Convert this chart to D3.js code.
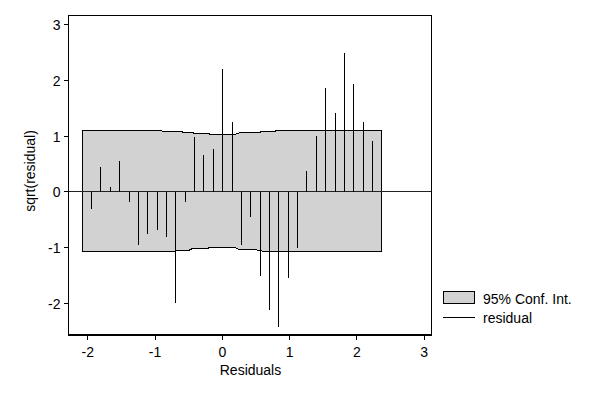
<!DOCTYPE html>
<html>
<head>
<meta charset="utf-8">
<script src="https://cdn.jsdelivr.net/npm/d3@7"></script>
<style>
  html, body { margin: 0; padding: 0; background: #fff; }
  svg { display: block; font-family: "Liberation Sans", Arial, sans-serif; }
</style>
</head>
<body>
<svg id="chart" width="600" height="400"></svg>
<script>
// ---- data ----
const residualX = [-1.932, -1.798, -1.649, -1.516, -1.367, -1.233, -1.100, -0.951, -0.817, -0.683,
                   -0.535, -0.401, -0.267, -0.119, 0.015, 0.163, 0.297, 0.431, 0.579, 0.713,
                   0.847, 0.996, 1.129, 1.263, 1.412, 1.545, 1.694, 1.828, 1.961, 2.110, 2.244];
const residualY = [-0.31, 0.45, 0.09, 0.55, -0.18, -0.95, -0.75, -0.68, -0.81, -1.99,
                   -0.18, 0.98, 0.66, 0.77, 2.20, 1.25, -0.95, -0.45, -1.52, -2.12,
                   -2.42, -1.55, -1.00, 0.37, 1.00, 1.86, 1.42, 2.49, 1.94, 1.25, 0.91];

const upperX = [-2.070, -0.941, -0.837, -0.614, -0.554, -0.450, -0.391, -0.212, -0.153, 0.189, 0.278, 0.545, 0.605, 0.768, 0.828, 2.373];
const upperY = [1.091, 1.091, 1.073, 1.073, 1.055, 1.055, 1.037, 1.037, 1.019, 1.019, 1.055, 1.055, 1.073, 1.073, 1.091, 1.091];
const lowerX = [-2.070, -0.733, -0.644, -0.495, -0.435, -0.227, -0.168, 0.189, 0.263, 0.500, 0.545, 0.650, 2.373];
const lowerY = [-1.081, -1.081, -1.063, -1.063, -1.027, -1.027, -1.009, -1.009, -1.050, -1.050, -1.068, -1.086, -1.086];

const xTicks = [-2, -1, 0, 1, 2, 3];
const yTicks = [-2, -1, 0, 1, 2, 3];
const xTitle = "Residuals";
const yTitle = "sqrt(residual)";
const legendLabels = ["95% Conf. Int.", "residual"];

// ---- layout ----
const L = 68, R = 431, T = 15, B = 334;
const FS = 14;
const x = d3.scaleLinear().domain([-2.278, 3.116]).range([L, R]);
const y = d3.scaleLinear().domain([-2.57, 3.155]).range([B, T]);
const px = v => Math.round(x(v)) + 0.5;
const py = v => Math.round(y(v)) + 0.5;

const svg = d3.select("#chart");
const bandFill = "#d2d2d2";

// band polygon (upper edge left->right, lower edge right->left)
const poly = upperX.map((d, i) => [x(d), y(upperY[i])])
  .concat(lowerX.map((d, i) => [x(d), y(lowerY[i])]).reverse());
svg.append("path")
  .attr("d", d3.line().x(d => Math.round(d[0]) + 0.5).y(d => Math.round(d[1]) + 0.5)(poly) + "Z")
  .attr("fill", bandFill)
  .attr("stroke", "#000")
  .attr("stroke-width", 1)
  .attr("shape-rendering", "crispEdges");

// zero line
svg.append("line")
  .attr("x1", L).attr("x2", R)
  .attr("y1", py(0)).attr("y2", py(0))
  .attr("stroke", "#222").attr("stroke-width", 1)
  .attr("shape-rendering", "crispEdges");

// residual spikes
svg.append("g").selectAll("line")
  .data(residualX.map((d, i) => ({ x: d, y: residualY[i] })))
  .join("line")
  .attr("x1", d => px(d.x)).attr("x2", d => px(d.x))
  .attr("y1", py(0)).attr("y2", d => py(d.y))
  .attr("stroke", "#000").attr("stroke-width", 1)
  .attr("shape-rendering", "crispEdges");

// frame
svg.append("rect")
  .attr("x", L + 0.5).attr("y", T + 0.5)
  .attr("width", R - L).attr("height", B - T)
  .attr("fill", "none").attr("stroke", "#000").attr("stroke-width", 1)
  .attr("shape-rendering", "crispEdges");
// thicker bottom axis
svg.append("line")
  .attr("x1", L).attr("x2", R + 1)
  .attr("y1", B + 1).attr("y2", B + 1)
  .attr("stroke", "#000").attr("stroke-width", 2)
  .attr("shape-rendering", "crispEdges");

// axes
const fmt = d => d < 0 ? "-" + Math.abs(d) : String(d);
const xAxis = d3.axisBottom(x).tickValues(xTicks).tickSize(5).tickFormat(fmt);
const gx = svg.append("g").attr("transform", `translate(0.5,${B + 1})`).call(xAxis);
gx.select(".domain").remove();
gx.selectAll(".tick line").attr("stroke", "#000").attr("shape-rendering", "crispEdges");
gx.selectAll(".tick text").attr("font-size", FS).attr("fill", "#000")
  .attr("font-family", "'Liberation Sans', Arial, sans-serif").attr("dy", null).attr("y", 22);

const yAxis = d3.axisLeft(y).tickValues(yTicks).tickSize(5).tickFormat(fmt);
const gy = svg.append("g").attr("transform", `translate(${L + 0.5},0.5)`).call(yAxis);
gy.select(".domain").remove();
gy.selectAll(".tick line").attr("stroke", "#000").attr("shape-rendering", "crispEdges");
gy.selectAll(".tick text").attr("font-size", FS).attr("fill", "#000")
  .attr("font-family", "'Liberation Sans', Arial, sans-serif").attr("x", -8)
  .attr("dy", null).attr("y", 5.5);

// titles
svg.append("text")
  .attr("x", (L + R) / 2 + 1).attr("y", 374.5)
  .attr("text-anchor", "middle").attr("font-size", FS).attr("fill", "#000")
  .text(xTitle);
svg.append("text")
  .attr("transform", `translate(35,171) rotate(-90)`)
  .attr("text-anchor", "middle").attr("font-size", FS).attr("fill", "#000")
  .text(yTitle);

// legend
const lg = svg.append("g");
lg.append("rect").attr("x", 443.5).attr("y", 291.5).attr("width", 31).attr("height", 12)
  .attr("fill", bandFill).attr("stroke", "#000").attr("shape-rendering", "crispEdges");
lg.append("text").attr("x", 483).attr("y", 304).attr("font-size", FS).attr("fill", "#000").text(legendLabels[0]);
lg.append("line").attr("x1", 443).attr("x2", 475).attr("y1", 317.5).attr("y2", 317.5)
  .attr("stroke", "#000").attr("shape-rendering", "crispEdges");
lg.append("text").attr("x", 483).attr("y", 323).attr("font-size", FS).attr("fill", "#000").text(legendLabels[1]);
</script>
</body>
</html>
